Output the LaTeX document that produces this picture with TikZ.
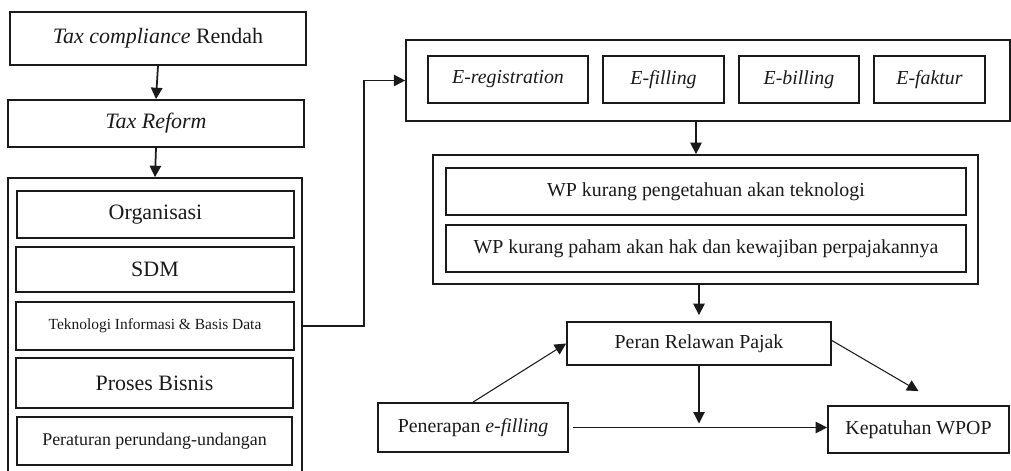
\documentclass[tikz,border=0pt]{standalone}
\usepackage{fontspec}
\setmainfont{Liberation Serif}
\usepackage{xcolor}
\usepackage{tikz}
\usetikzlibrary{arrows.meta,positioning,calc}
\definecolor{fink}{HTML}{1A1A1A}

\begin{document}
\begin{tikzpicture}[x=0.02cm,y=-0.02cm,
  every node/.style={text=fink},
  box/.style={draw=fink,line width=1pt,inner sep=0pt,align=center},
  fbig/.style={font=\fontsize{12.5pt}{15pt}\selectfont},
  fmid/.style={font=\fontsize{11.3pt}{13pt}\selectfont},
  fsmall/.style={font=\fontsize{10.2pt}{12pt}\selectfont},
  ftiny/.style={font=\fontsize{8.8pt}{10pt}\selectfont},
  arr/.style={-{Triangle[length=6.5pt,width=6.5pt]},draw=fink,line width=0.6pt},
  arrb/.style={arr,line width=1pt}]
  \useasboundingbox (0,0) rectangle (1011,470);

  % left column
  \node[box,fbig,minimum width=5.92cm,minimum height=1.06cm] (tcr) at (158,38.5) {\textit{Tax compliance} Rendah};
  \node[box,fbig,minimum width=5.92cm,minimum height=0.94cm] (tr) at (156,123.5) {\textit{Tax Reform}};
  \node[box,minimum width=5.88cm,minimum height=5.96cm] (lout) at (155,327) {};
  \node[box,fbig,minimum width=5.54cm,minimum height=0.94cm] (org) at (155.5,214.5) {Organisasi};
  \node[box,fbig,minimum width=5.56cm,minimum height=0.90cm] (sdm) at (155,269.5) {SDM};
  \node[box,ftiny,minimum width=5.56cm,minimum height=0.96cm] (tek) at (155,326) {Teknologi Informasi \& Basis Data};
  \node[box,fbig,minimum width=5.54cm,minimum height=1.00cm] (pro) at (154.5,383) {Proses Bisnis};
  \node[box,fsmall,minimum width=5.50cm,minimum height=0.96cm] (per) at (154.5,441) {Peraturan perundang-undangan};

  \draw[arrb] (tcr.south) -- (tr.north);
  \draw[arrb] (tr.south) -- (lout.north);

  % e-services
  \node[box,minimum width=12.08cm,minimum height=1.62cm] (eout) at (708,80.5) {};
  \node[box,fmid,minimum width=3.20cm,minimum height=0.94cm] (ereg) at (508,79.5) {\textit{E-registration}};
  \node[box,fmid,minimum width=2.42cm,minimum height=0.94cm] (efil) at (663.5,79.5) {\textit{E-filling}};
  \node[box,fmid,minimum width=2.40cm,minimum height=0.94cm] (ebil) at (799,79.5) {\textit{E-billing}};
  \node[box,fmid,minimum width=2.22cm,minimum height=0.94cm] (efak) at (929.5,79.5) {\textit{E-faktur}};

  \draw[arrb] (tek.east -| lout.east) -- ++(61,0) |- (eout.west);

  % kendala WP
  \node[box,minimum width=10.90cm,minimum height=2.58cm] (wout) at (705.5,219.5) {};
  \node[box,fmid,minimum width=10.40cm,minimum height=0.94cm] (wtek) at (706,191.5) {WP kurang pengetahuan akan teknologi};
  \node[box,fmid,minimum width=10.40cm,minimum height=0.94cm] (whak) at (706,248.5) {WP kurang paham akan hak dan kewajiban perpajakannya};

  \draw[arr] ([xshift=-0.24cm]eout.south) -- ([xshift=-0.24cm]eout.south |- wout.north);

  % model
  \node[box,fmid,minimum width=5.28cm,minimum height=0.86cm] (peran) at (699,343.5) {Peran Relawan Pajak};
  \node[box,fmid,minimum width=3.80cm,minimum height=0.98cm] (pen) at (473,427.5) {Penerapan \textit{e-filling}};
  \node[box,fmid,minimum width=3.62cm,minimum height=0.94cm] (kep) at (918.5,429.5) {Kepatuhan WPOP};

  \draw[arr] (wout.south -| peran) -- ([yshift=0.12cm]peran.north);
  \draw[arr] (pen.north) -- (peran.west);
  \draw[arr] (peran.south) -- ([yshift=0.12cm]peran.south |- kep.west);
  \draw[arr] ([xshift=0.08cm]pen.east) -- (pen.east -| kep.west);
  \draw[arr] ([yshift=0.06cm]peran.east) -- ([yshift=0.28cm]kep.north);
\end{tikzpicture}
\end{document}
